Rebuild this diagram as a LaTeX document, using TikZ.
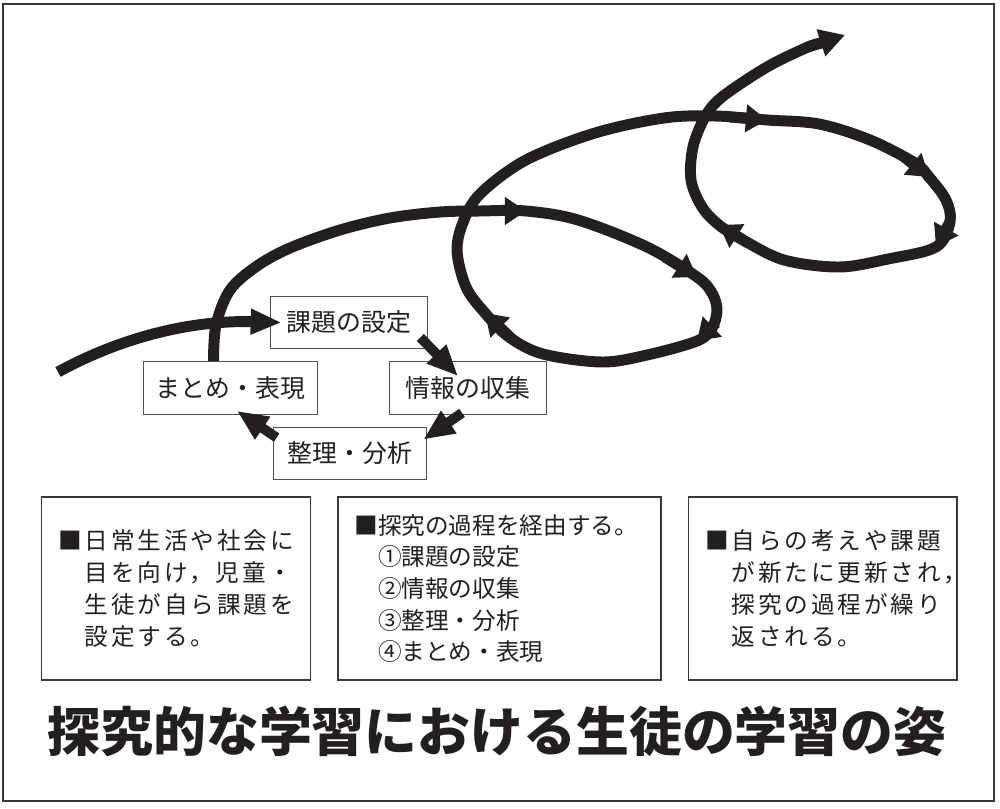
\documentclass[tikz,border=0pt]{standalone}
\usepackage{fontspec}
\setmainfont{Noto Sans CJK JP}
\usepackage{tikz}
\usetikzlibrary{arrows.meta}
\definecolor{ink}{HTML}{231F20}
\definecolor{rulegray}{HTML}{505050}
\newcommand{\sqin}[1]{\\\hspace*{#1}}

\begin{document}
\begin{tikzpicture}[x=0.025cm, y=-0.025cm,
    stagebox/.style={draw=rulegray, line width=0.9pt, minimum width=#1, minimum height=37.4pt,
        inner sep=0pt, text=ink, font=\fontsize{17.7pt}{20pt}\selectfont},
    notebox/.style={draw=rulegray!70!black, line width=1.4pt, minimum height=129.7pt,
        inner xsep=12pt, inner ysep=0pt, text=ink, align=left},
    notefont/.style={font=\fontsize{16.8pt}{22.5pt}\selectfont},
    notewide/.style={font=\fontsize{16.8pt}{22.7pt}\selectfont\addfontfeatures{LetterSpace=12}},
    stagearrow/.style={draw=ink, line width=7pt, -{Triangle[length=22pt, width=18pt]}},
    loopline/.style={draw=ink, line width=7.8pt, line join=round},
    loophead/.style={loopline, -{Triangle[length=15pt, width=19pt]}}]

    % page and frame
    \fill[white] (0,0) rectangle (1000,809);
    \draw[rulegray!70!black, line width=1.4pt] (3,4) rectangle (994,801);

    % the four stages
    \node[stagebox=112pt] (kadai)  at (349,322.5) {課題の設定};
    \node[stagebox=124pt] (matome) at (230.5,388) {まとめ・表現};
    \node[stagebox=112pt] (joho)   at (468,388)   {情報の収集};
    \node[stagebox=109.1pt] (seiri) at (350,453.5) {整理・分析};

    % arrows between the stages
    \draw[stagearrow] ([shift={(-8,-12)}]kadai.south east) -- ([shift={(-10,15)}]joho.north);
    \draw[stagearrow] ([shift={(-6,-2)}]joho.south) -- ([shift={(-4,13)}]seiri.north east);
    \draw[stagearrow] ([shift={(4,11)}]seiri.north west) -- ([shift={(6.5,-4)}]matome.south);

    % entry into the first stage
    \coordinate (entry) at (58,372);
    \draw[loopline, -{Triangle[length=22pt, width=17pt]}] (entry)
        .. controls (120,338) and (190,320) .. ([shift={(12,0)}]kadai.west);

    % the spiral
    \coordinate (loopstart) at ([shift={(-17,0)}]matome.north);
    \draw[loopline] plot[smooth, tension=0.55] coordinates {
        (loopstart) (216,325) (230,290) (257,266) (290,248) (340,230) (390,218)
        (440,212) (480,211) (526,211) (578,220) (647,247) (697,277) (712,293)
        (717,310) (712,328) (697,341) (647,355) (602,362) (543,354) (509,337)
        (485,313) (466,287) (457,250) (464,220) (481,193) (526,160) (595,133)
        (664,118) (715,116) (767,120) (819,124) (870,140) (915,163) (929,177)
        (946,200) (950,222) (936,247) (888,259) (839,267) (784,260) (743,240)
        (719,225) (702,207) (691,180) (693,147) (705,117) (722,97) (767,67)
        (808,47) (822,43)};

    % arrowheads along the spiral
    \foreach \fx/\fy/\tx/\ty in {490/211/526/211, 665/257/697/277, 716/323/697/341,
        512/339/485/313, 730/117/767/120, 903/156/929/177, 950/222/936/247,
        748/243/719/225} {
        \draw[loophead] (\fx,\fy) -- (\tx,\ty);
    }
    \draw[loopline, -{Triangle[length=18pt, width=19pt]}] (808,47) -- (845,35);

    % notes
    \node[notebox, notewide, minimum width=191.3pt, text width=167.3pt] (note1) at (176,588.5)
        {■日常生活や社会に\sqin{1.12em}目を向け，児童・\sqin{1.12em}生徒が自ら課題を\sqin{1.12em}設定する。};
    \node[notebox, notefont, minimum width=230.3pt, text width=206.3pt] (note2) at (499.5,588.5)
        {■探究の過程を経由する。\sqin{1em}①課題の設定\sqin{1em}②情報の収集\sqin{1em}③整理・分析\sqin{1em}④まとめ・表現};
    \node[notebox, notewide, minimum width=190.6pt, text width=166.6pt] (note3) at (822.5,588.5)
        {■自らの考えや課題\sqin{1.12em}が新たに更新され，\sqin{1.12em}探究の過程が繰り\sqin{1.12em}返される。};

    % title
    \node[text=ink, font=\fontsize{37.6pt}{40pt}\selectfont\bfseries] (title) at (497,731)
        {探究的な学習における生徒の学習の姿};
\end{tikzpicture}
\end{document}
